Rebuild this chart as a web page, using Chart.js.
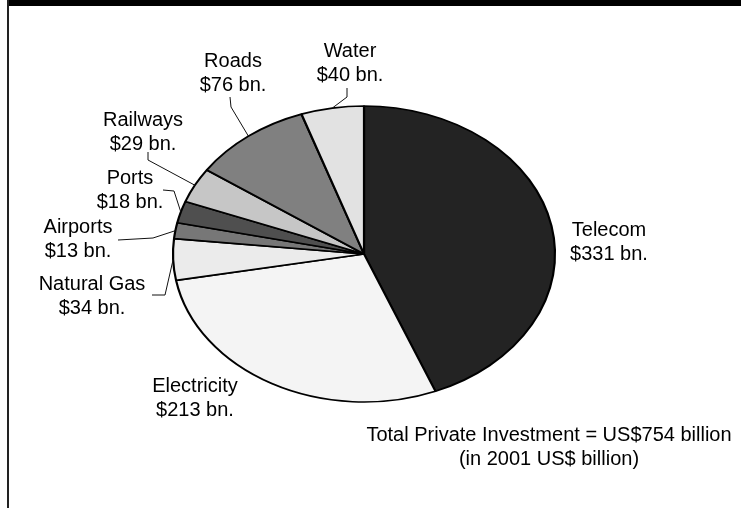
<!DOCTYPE html>
<html>
<head>
<meta charset="utf-8">
<title>Private Investment in Infrastructure</title>
<script src="https://cdn.jsdelivr.net/npm/chart.js@4.4.1/dist/chart.umd.min.js"></script>
<style>
  html, body { margin: 0; padding: 0; background: #fff; }
  canvas { display: block; }
</style>
</head>
<body>
<canvas id="chart" width="741" height="508"></canvas>
<script>
// DATA
const sectors = ['Telecom', 'Electricity', 'Natural Gas', 'Airports', 'Ports', 'Railways', 'Roads', 'Water'];
const investment = [331, 213, 34, 13, 18, 29, 76, 40]; // US$ billion
const sliceColors = ['#232323', '#f4f4f4', '#ebebeb', '#777777', '#4f4f4f', '#c6c6c6', '#808080', '#e2e2e2'];
const total = investment.reduce((a, b) => a + b, 0);
const footnote = ['Total Private Investment = US$' + total + ' billion', '(in 2001 US$ billion)'];

// LAYOUT
const W = 741, H = 508;
const centerX = 364, centerY = 254;
const radiusX = 191, radiusY = 148;
const squash = radiusY / radiusX;
const lineHeight = 24;
const font = '20px "Liberation Sans", Arial, sans-serif';

// text anchor (center x, first baseline) + leader line points before it reaches the slice
const labelPos = [
  { x: 609, y: 236 },
  { x: 195, y: 392 },
  { x: 92,  y: 290, leader: [[152, 295], [165, 295]] },
  { x: 78,  y: 233, leader: [[118, 240], [153, 238]] },
  { x: 130, y: 184, leader: [[163, 190], [174, 191]] },
  { x: 143, y: 126, leader: [[148, 152], [148, 160]] },
  { x: 233, y: 67,  leader: [[230, 97], [231, 107]] },
  { x: 350, y: 57,  leader: [[347, 88], [347, 97]] }
];
const footnotePos = { x: 549, y: 441 };


// PLUGINS

// flatten the round pie into an ellipse
const squashPie = {
  id: 'squashPie',
  beforeDatasetsDraw(chart) {
    const ctx = chart.ctx;
    ctx.save();
    ctx.translate(centerX, centerY);
    ctx.scale(1, squash);
    ctx.translate(-centerX, -centerY);
  },
  afterDatasetsDraw(chart) {
    chart.ctx.restore();
  }
};

// black bar on top and the rule down the left side
const frame = {
  id: 'frame',
  beforeDraw(chart) {
    const ctx = chart.ctx;
    ctx.save();
    ctx.fillStyle = '#000';
    ctx.fillRect(7, 0, W - 7, 6);
    ctx.fillStyle = '#222';
    ctx.fillRect(7, 0, 2, H);
    ctx.restore();
  }
};

// sector names, values and leader lines
const sliceLabels = {
  id: 'sliceLabels',
  afterDraw(chart) {
    const ctx = chart.ctx;
    const arcs = chart.getDatasetMeta(0).data;
    ctx.save();
    ctx.font = font;
    ctx.fillStyle = '#000';
    ctx.textAlign = 'center';
    ctx.textBaseline = 'alphabetic';

    arcs.forEach((arc, i) => {
      const p = arc.getProps(['x', 'y', 'startAngle', 'endAngle', 'outerRadius'], true);
      const mid = (p.startAngle + p.endAngle) / 2;
      const edgeX = p.x + Math.cos(mid) * p.outerRadius;
      const edgeY = p.y + Math.sin(mid) * p.outerRadius * squash;
      const pos = labelPos[i];

      if (pos.leader) {
        ctx.strokeStyle = '#111';
        ctx.lineWidth = 1;
        ctx.beginPath();
        ctx.moveTo(pos.leader[0][0], pos.leader[0][1]);
        ctx.lineTo(pos.leader[1][0], pos.leader[1][1]);
        ctx.lineTo(edgeX, edgeY);
        ctx.stroke();
      }

      ctx.fillText(sectors[i], pos.x, pos.y);
      ctx.fillText('$' + investment[i] + ' bn.', pos.x, pos.y + lineHeight);
    });

    footnote.forEach((line, i) => {
      ctx.fillText(line, footnotePos.x, footnotePos.y + i * lineHeight);
    });
    ctx.restore();
  }
};


// CHART
new Chart(document.getElementById('chart'), {
  type: 'pie',
  data: {
    labels: sectors,
    datasets: [{
      data: investment,
      backgroundColor: sliceColors,
      borderColor: '#000',
      borderWidth: 2.2,
      radius: radiusX
    }]
  },
  options: {
    responsive: false,
    animation: false,
    events: [],
    layout: {
      padding: {
        left: centerX - radiusX,
        right: W - centerX - radiusX,
        top: centerY - radiusX,
        bottom: H - centerY - radiusX
      }
    },
    plugins: {
      legend: { display: false },
      tooltip: { enabled: false }
    }
  },
  plugins: [frame, squashPie, sliceLabels]
});
</script>
</body>
</html>
